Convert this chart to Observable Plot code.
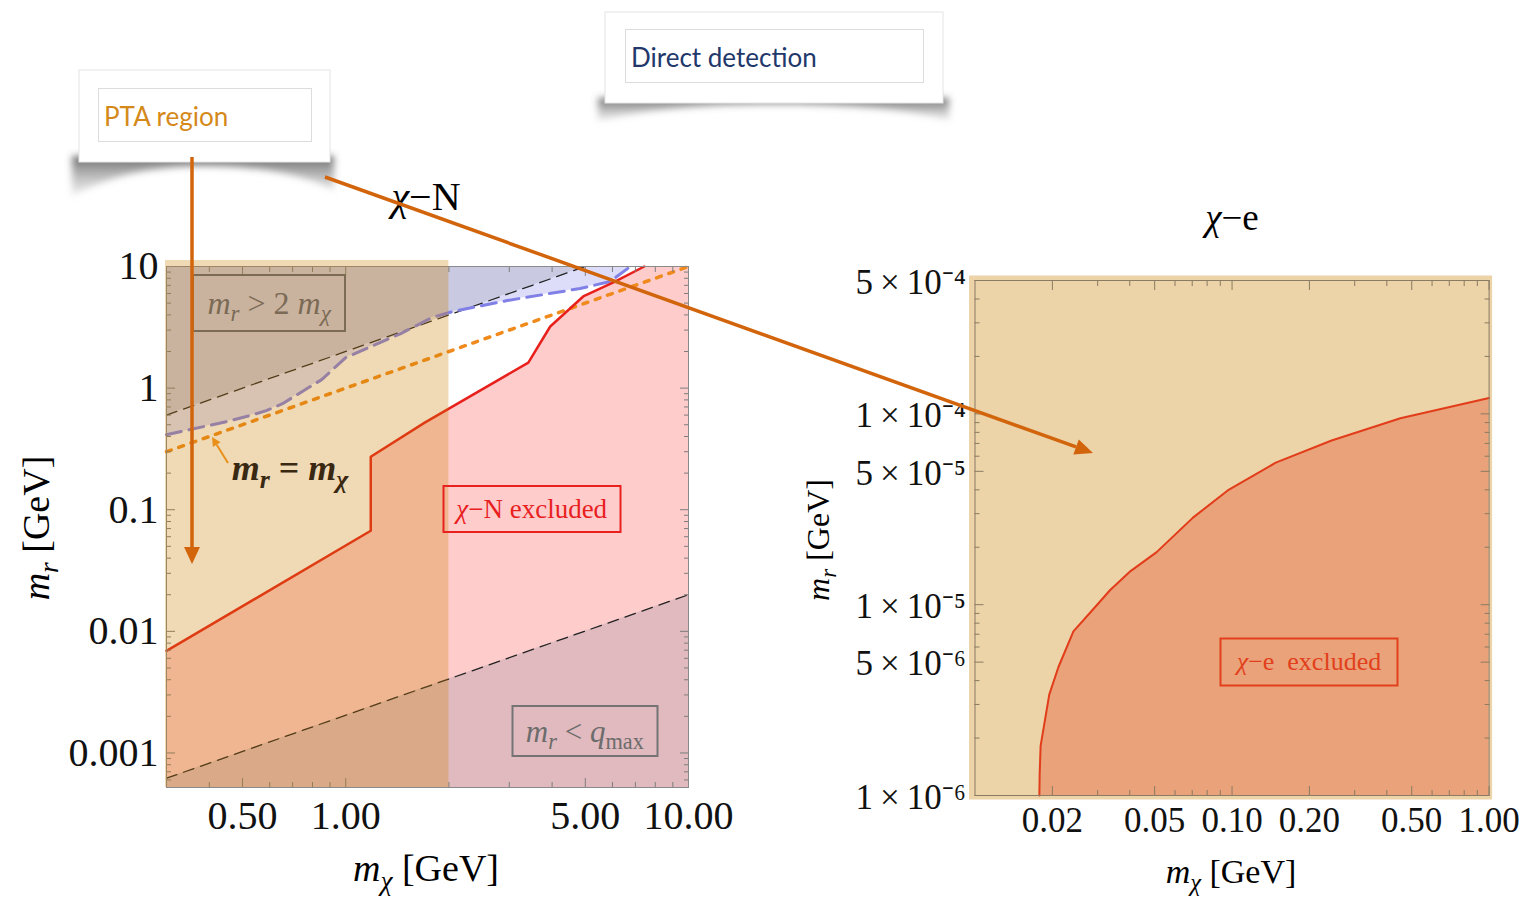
<!DOCTYPE html>
<html><head><meta charset="utf-8">
<script src="https://cdn.jsdelivr.net/npm/d3@7"></script>
<script src="https://cdn.jsdelivr.net/npm/@observablehq/plot@0.6"></script>
<style>
body{margin:0;background:#fff;}
#root{position:relative;width:1527px;height:897px;overflow:hidden;font-family:"Liberation Serif",serif;background:#fff;}
.plotwrap{position:absolute;top:0;}
.lbl{position:absolute;transform:translate(-50%,-50%);white-space:nowrap;line-height:1;font-family:"Liberation Serif",serif;}
.box{display:flex;align-items:center;justify-content:center;box-sizing:border-box;}
.s{font-size:0.72em;position:relative;top:0.32em;}
.rot{transform:translate(-50%,-50%) rotate(-90deg);}
</style></head><body><div id="root"></div>
<script>
// ---------------- χ–N panel data ----------------
const nXDomain = [0.3, 10];
const nYDomain = [5.2e-4, 10];
const ptaMx = [0.3, 2];                       // PTA region in mχ
const redNmx = [0.3, 1.183, 1.183, 1.70, 3.41, 3.95, 4.93, 6.04, 7.43, 10];
const redNmr = [0.0069, 0.0672, 0.273, 0.52, 1.62, 3.21, 5.67, 7.39, 10, 10];
const blueNmx = [0.3, 0.449, 0.524, 0.587, 0.654, 0.851, 1.0, 1.448, 1.784, 2.05, 2.96, 4.83, 5.91, 6.77];
const blueNmr = [0.414, 0.530, 0.594, 0.653, 0.745, 1.175, 1.78, 2.81, 3.80, 4.26, 5.25, 6.59, 7.53, 10];
const twoMxMx = [0.3, 5];   const twoMxMr = [0.6, 10];      // mr = 2 mχ
const eqMx = [0.3, 10];     const eqMr = [0.3, 10];         // mr = mχ
const qmaxMx = [0.3, 10];   const qmaxMr = [6.2e-4, 0.020]; // mr = qmax
const nXTicks = [0.5, 1, 5, 10];
const nXTickLabels = ["0.50", "1.00", "5.00", "10.00"];
const nXMinor = [0.3, 0.4, 0.6, 0.7, 0.8, 0.9, 2, 3, 4, 6, 7, 8, 9];
const nYTicks = [0.001, 0.01, 0.1, 1, 10];
const nYTickLabels = ["0.001", "0.01", "0.1", "1", "10"];
const nYMinor = [6e-4,7e-4,8e-4,9e-4, 0.002,0.003,0.004,0.005,0.006,0.007,0.008,0.009,
  0.02,0.03,0.04,0.05,0.06,0.07,0.08,0.09, 0.2,0.3,0.4,0.5,0.6,0.7,0.8,0.9, 2,3,4,5,6,7,8,9];

// ---------------- χ–e panel data ----------------
const eXDomain = [0.01, 1];
const eYDomain = [1e-6, 5e-4];
const redEmx = [0.0178, 0.01785, 0.0180, 0.01945, 0.0211, 0.02415, 0.0297, 0.0335, 0.0403, 0.0509, 0.0705, 0.0962, 0.148, 0.244, 0.452, 1.0];
const redEmr = [1e-6, 1.3e-6, 1.82e-6, 3.38e-6, 4.7e-6, 7.25e-6, 9.9e-6, 1.19e-5, 1.5e-5, 1.886e-5, 2.86e-5, 3.97e-5, 5.55e-5, 7.25e-5, 9.48e-5, 1.21e-4];
const eXTicks = [0.02, 0.05, 0.1, 0.2, 0.5, 1];
const eXTickLabels = ["0.02", "0.05", "0.10", "0.20", "0.50", "1.00"];
const eXMinor = [0.03,0.04,0.06,0.07,0.08,0.09,0.3,0.4,0.6,0.7,0.8,0.9];
const eYTicks = [1e-6, 5e-6, 1e-5, 5e-5, 1e-4, 5e-4];
const eYTickLabels = ["1\u2009×\u200910⁻⁶", "5\u2009×\u200910⁻⁶", "1\u2009×\u200910⁻⁵", "5\u2009×\u200910⁻⁵", "1\u2009×\u200910⁻⁴", "5\u2009×\u200910⁻⁴"];
const eYMinor = [2e-6,3e-6,4e-6,6e-6,7e-6,8e-6,9e-6,2e-5,3e-5,4e-5,6e-5,7e-5,8e-5,9e-5,2e-4,3e-4,4e-4];

// label anchors (data coordinates)
const nLabelX = [0.6, 0.69, 3.5, 5.0];
const nLabelY = [5.0, 0.22, 0.1, 0.0015];
const eLabelX = [0.2];
const eLabelY = [5e-6];

const pts = (xs, ys) => xs.map((x, i) => ({x, y: ys[i]}));
const redN = pts(redNmx, redNmr);
const blueN = pts(blueNmx, blueNmr);
const twoN = pts(twoMxMx, twoMxMr);
const eqN = pts(eqMx, eqMr);
const qmaxN = pts(qmaxMx, qmaxMr);
const redE = pts(redEmx, redEmr);
const eYLab = eYTicks.map((v, i) => ({v, t: eYTickLabels[i]}));

const fmtMap = (ticks, labels) => { const m = new Map(ticks.map((t, i) => [t, labels[i]])); return d => m.get(d); };
const blank = () => "";
const tickCol = "#7d7d7d";

function frameAxes(xT, xL, xMinor, yT, yL, yMinor, opt) {
  const c = opt.color, fs = opt.fontSize;
  return [
    Plot.axisX({anchor: "bottom", ticks: xT, tickFormat: fmtMap(xT, xL), tickSize: -9, tickPadding: opt.xPad, fontSize: fs, stroke: c, fill: "#111", label: null}),
    Plot.axisX({anchor: "top", ticks: xT, tickFormat: blank, tickSize: -9, stroke: c, label: null}),
    Plot.axisX({anchor: "bottom", ticks: xMinor, tickFormat: blank, tickSize: -5, stroke: c, label: null}),
    Plot.axisX({anchor: "top", ticks: xMinor, tickFormat: blank, tickSize: -5, stroke: c, label: null}),
    Plot.axisY({anchor: "left", ticks: yT, tickFormat: yL ? fmtMap(yT, yL) : blank, tickSize: -9, tickPadding: opt.yPad, fontSize: fs, stroke: c, fill: "#111", label: null}),
    Plot.axisY({anchor: "right", ticks: yT, tickFormat: blank, tickSize: -9, stroke: c, label: null}),
    Plot.axisY({anchor: "left", ticks: yMinor, tickFormat: blank, tickSize: -5, stroke: c, label: null}),
    Plot.axisY({anchor: "right", ticks: yMinor, tickFormat: blank, tickSize: -5, stroke: c, label: null})
  ];
}

const root = document.getElementById("root");

// ---------------- left plot ----------------
const LEFT_X = 0;
const leftPlot = Plot.plot({
  width: 780, height: 897,
  marginLeft: 166, marginRight: 92, marginTop: 266, marginBottom: 110,
  x: {type: "log", domain: nXDomain},
  y: {type: "log", domain: nYDomain},
  style: {background: "transparent", fontFamily: "Liberation Serif", overflow: "visible"},
  marks: [
    Plot.areaY(redN, {x: "x", y1: nYDomain[0], y2: "y", fill: "#ff0000", fillOpacity: 0.2}),
    Plot.areaY(qmaxN, {x: "x", y1: nYDomain[0], y2: "y", fill: "#a096a0", fillOpacity: 0.33}),
    Plot.areaY(blueN, {x: "x", y1: "y", y2: nYDomain[1], fill: "#7878eb", fillOpacity: 0.25}),
    Plot.areaY(twoN, {x: "x", y1: "y", y2: nYDomain[1], fill: "#6e6e6e", fillOpacity: 0.18}),
    Plot.line(qmaxN, {x: "x", y: "y", stroke: "#222", strokeWidth: 1.3, strokeDasharray: "11,7"}),
    Plot.line(twoN, {x: "x", y: "y", stroke: "#222", strokeWidth: 1.3, strokeDasharray: "11,7"}),
    Plot.line(eqN, {x: "x", y: "y", stroke: "#f08a1c", strokeWidth: 3.5, strokeDasharray: "5,8"}),
    Plot.line(blueN, {x: "x", y: "y", stroke: "#8080e6", strokeWidth: 3, strokeDasharray: "15,8"}),
    Plot.line(redN.slice(0, -1), {x: "x", y: "y", stroke: "#e8201c", strokeWidth: 2.5}),
    ...frameAxes(nXTicks, nXTickLabels, nXMinor, nYTicks, nYTickLabels, nYMinor, {color: tickCol, fontSize: 40, xPad: 22, yPad: 17}),
    Plot.frame({stroke: "#8a8a8a"}),
    Plot.rect([ptaMx], {x1: d => d[0], x2: d => d[1], y1: nYDomain[0], y2: nYDomain[1], fill: "#cd8000", fillOpacity: 0.29, insetTop: -6, insetLeft: -1})
  ]
});
const lw = document.createElement("div"); lw.className = "plotwrap"; lw.style.left = LEFT_X + "px";
lw.appendChild(leftPlot); root.appendChild(lw);

// ---------------- right plot ----------------
const RIGHT_X = 780;
const rightPlot = Plot.plot({
  width: 747, height: 897,
  marginLeft: 194.5, marginRight: 38.4, marginTop: 280, marginBottom: 102,
  x: {type: "log", domain: eXDomain},
  y: {type: "log", domain: eYDomain},
  style: {background: "transparent", fontFamily: "Liberation Serif", overflow: "visible"},
  marks: [
    Plot.frame({fill: "#ecd3a8", insetTop: -5, insetLeft: -6, insetRight: -3, insetBottom: -4}),
    Plot.areaY(redE, {x: "x", y1: eYDomain[0], y2: "y", fill: "#eaa27a"}),
    Plot.line(redE, {x: "x", y: "y", stroke: "#e23d1a", strokeWidth: 2}),
    ...frameAxes(eXTicks, eXTickLabels, eXMinor, eYTicks, null, eYMinor, {color: "#8a7b62", fontSize: 35, xPad: 21, yPad: 17}),
    Plot.text(eYLab, {y: "v", text: "t", frameAnchor: "left", textAnchor: "end", dx: -9, dy: 2, fontSize: 35, fill: "#111"}),
    Plot.frame({stroke: "#8a7b62"})
  ]
});
const rw = document.createElement("div"); rw.className = "plotwrap"; rw.style.left = RIGHT_X + "px";
rw.appendChild(rightPlot); root.appendChild(rw);

// ---------------- HTML text ----------------
function addLabel(px, py, html, css, cls) {
  const d = document.createElement("div");
  d.className = "lbl " + (cls || "");
  d.style.left = px + "px"; d.style.top = py + "px";
  Object.assign(d.style, css || {});
  d.innerHTML = "<span>" + html + "</span>";
  root.appendChild(d);
  return d;
}
const mr = '<i>m</i><span class="s"><i>r</i></span>';
const mx = '<i>m</i><span class="s"><i>χ</i></span>';

// titles and axis titles
addLabel(426, 197, '<i>χ</i>−N', {fontSize: "40px"});
addLabel(1232, 217, '<i>χ</i>−e', {fontSize: "37px"});
addLabel(426, 868, mx + ' [GeV]', {fontSize: "38px"});
addLabel(1231, 872, mx + ' [GeV]', {fontSize: "34px"});
addLabel(36, 528, mr + ' [GeV]', {fontSize: "38px"}, "rot");
addLabel(818, 540, mr + ' [GeV]', {fontSize: "32px"}, "rot");

// in-plot labels positioned via the plot scales
const lsx = leftPlot.scale("x"), lsy = leftPlot.scale("y");
const rsx = rightPlot.scale("x"), rsy = rightPlot.scale("y");
const nP = i => [LEFT_X + lsx.apply(nLabelX[i]), lsy.apply(nLabelY[i])];
const eP = i => [RIGHT_X + rsx.apply(eLabelX[i]), rsy.apply(eLabelY[i])];

let p = nP(0);
addLabel(p[0], p[1], mr + ' &gt; 2 ' + mx, {fontSize: "32px", color: "#7b6a55", width: "154px", height: "58px", border: "2px solid #7d6c55"}, "box");
p = nP(1);
addLabel(p[0], p[1], '<b>' + mr + ' = ' + mx + '</b>', {fontSize: "36px", color: "#3a2912"});
p = nP(2);
addLabel(p[0], p[1], '<i>χ</i>−N excluded', {fontSize: "27px", color: "#e8201e", width: "179px", height: "48px", border: "2px solid #e8201e"}, "box");
p = nP(3);
addLabel(p[0], p[1], mr + ' &lt; <i>q</i><span class="s">max</span>', {fontSize: "31px", color: "#6c6c6c", width: "147px", height: "52px", border: "2px solid #747474"}, "box");
p = eP(0);
addLabel(p[0], p[1], '<i>χ</i>−e&nbsp; excluded', {fontSize: "26px", color: "#e2401c", width: "179px", height: "49px", border: "2px solid #e2401c"}, "box");

// ---------------- callouts & arrows overlay ----------------
const svg = d3.select(root).append("svg").attr("width", 1527).attr("height", 897)
  .style("position", "absolute").style("left", 0).style("top", 0);
const defs = svg.append("defs");
defs.append("filter").attr("id", "blur").attr("x", "-20%").attr("y", "-100%").attr("width", "140%").attr("height", "300%")
  .append("feGaussianBlur").attr("stdDeviation", 3.5);
const g = defs.append("linearGradient").attr("id", "shg").attr("x1", 0).attr("y1", 0).attr("x2", 0).attr("y2", 1);
g.append("stop").attr("offset", "0%").attr("stop-color", "#444").attr("stop-opacity", 0.8);
g.append("stop").attr("offset", "100%").attr("stop-color", "#aaa").attr("stop-opacity", 0.2);

// shadows
svg.append("path").attr("d", "M72,156 L334,156 L334,190 C 305,174 255,166 205,166 C 150,166 108,176 72,196 Z")
  .attr("fill", "url(#shg)").attr("filter", "url(#blur)");
svg.append("path").attr("d", "M598,98 L949,98 L949,120 C 900,107 830,104 773,104 C 710,104 650,108 598,121 Z")
  .attr("fill", "url(#shg)").attr("filter", "url(#blur)");

// boxes
svg.append("rect").attr("x", 79).attr("y", 70).attr("width", 251).attr("height", 92).attr("fill", "#fff").attr("stroke", "#e4e4e4");
svg.append("rect").attr("x", 98.5).attr("y", 88.5).attr("width", 213).attr("height", 53).attr("fill", "none").attr("stroke", "#dcdcdc");
svg.append("text").attr("x", 104).attr("y", 126).attr("font-family", "Lato, 'Open Sans', sans-serif").attr("font-size", 26)
  .attr("fill", "#d4891a").text("PTA region");

svg.append("rect").attr("x", 605).attr("y", 12).attr("width", 338).attr("height", 91).attr("fill", "#fff").attr("stroke", "#e4e4e4");
svg.append("rect").attr("x", 625.5).attr("y", 29.5).attr("width", 298).attr("height", 53).attr("fill", "none").attr("stroke", "#dcdcdc");
svg.append("text").attr("x", 631).attr("y", 67).attr("font-family", "Lato, 'Open Sans', sans-serif").attr("font-size", 26)
  .attr("fill", "#22386b").text("Direct detection");

// arrows
const AC = "#d2650c";
function arrow(x0, y0, x1, y1, w, hl, hw, col) {
  const dx = x1 - x0, dy = y1 - y0, L = Math.hypot(dx, dy), ux = dx / L, uy = dy / L;
  const bx = x1 - hl * ux, by = y1 - hl * uy, nx = -uy, ny = ux;
  svg.append("line").attr("x1", x0).attr("y1", y0).attr("x2", bx).attr("y2", by).attr("stroke", col).attr("stroke-width", w);
  svg.append("path").attr("d", `M${x1},${y1} L${bx + hw * nx},${by + hw * ny} L${bx - hw * nx},${by - hw * ny} Z`).attr("fill", col);
}
arrow(192, 157, 192, 564, 3.5, 17, 8, AC);
arrow(325, 177, 1093, 453, 3.5, 18, 8, AC);
arrow(228, 463, 212, 437, 2, 9, 4.5, "#e8901a");
</script></body></html>
